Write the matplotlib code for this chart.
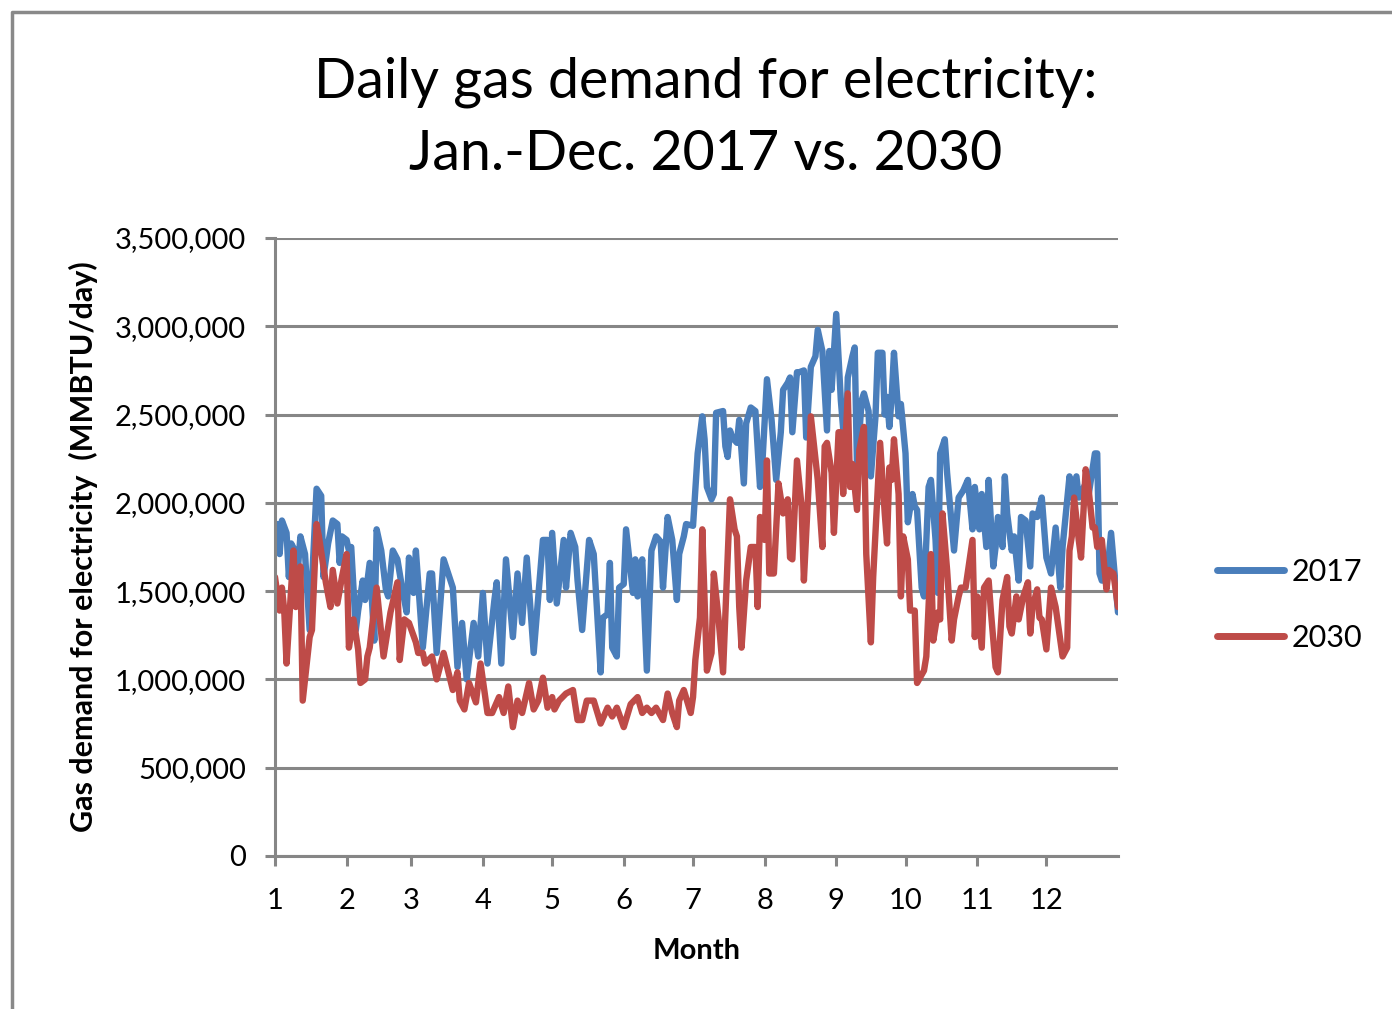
import matplotlib
matplotlib.use("Agg")
import matplotlib.pyplot as plt
from matplotlib.ticker import FuncFormatter

plt.rcParams['font.family'] = ['Lato', 'DejaVu Sans']

# day of year (0-based) and demand in million MMBTU/day
days_2017 = [0, 1, 2, 3, 5, 6, 7, 9, 10, 11, 13, 15, 18, 20, 21, 23, 25, 27, 28, 29,
             31, 32, 33, 35, 36, 38, 39, 41, 43, 44, 46, 48, 49, 51, 53, 55, 57, 58, 60, 61,
             64, 67, 68, 70, 73, 77, 79, 81, 83, 86, 88, 90, 92, 95, 96, 98, 100, 103, 105, 107,
             109, 112, 116, 118, 119, 120, 122, 125, 126, 128, 130, 131, 133, 136, 138, 141, 142, 144, 145, 146,
             148, 149, 151, 152, 155, 156, 157, 158, 159, 161, 163, 165, 167, 168, 170, 172, 174, 175, 177, 178,
             181, 183, 185, 186, 187, 189, 190, 191, 194, 195, 196, 197, 198, 200, 201, 203, 204, 206, 208, 210,
             211, 213, 215, 217, 219, 220, 222, 223, 224, 226, 227, 229, 230, 232, 234, 235, 237, 239, 240, 241,
             243, 245, 247, 248, 250, 251, 252, 254, 255, 257, 258, 260, 261, 263, 264, 265, 266, 267, 268, 270,
             271, 273, 274, 276, 277, 278, 280, 281, 283, 284, 286, 287, 288, 290, 291, 294, 296, 298, 300, 302,
             303, 305, 306, 308, 309, 311, 312, 313, 315, 316, 317, 319, 320, 322, 323, 325, 327, 328, 330, 332,
             334, 336, 338, 340, 341, 344, 345, 347, 348, 351, 352, 355, 356, 357, 358, 360, 362, 365]
demand_2017 = [1.87, 1.88, 1.71, 1.90, 1.83, 1.58, 1.77, 1.72, 1.64, 1.81, 1.71, 1.28, 2.08, 2.04, 1.58, 1.77, 1.90, 1.88, 1.66, 1.81,
               1.79, 1.73, 1.75, 1.28, 1.39, 1.56, 1.45, 1.66, 1.22, 1.85, 1.73, 1.51, 1.47, 1.73, 1.68, 1.52, 1.38, 1.69, 1.49, 1.73,
               1.18, 1.60, 1.60, 1.15, 1.68, 1.52, 1.07, 1.32, 1.00, 1.32, 1.13, 1.49, 1.09, 1.45, 1.55, 1.09, 1.68, 1.24, 1.60, 1.32,
               1.69, 1.15, 1.79, 1.79, 1.45, 1.83, 1.43, 1.79, 1.52, 1.83, 1.75, 1.56, 1.28, 1.79, 1.71, 1.04, 1.35, 1.37, 1.66, 1.18,
               1.13, 1.52, 1.54, 1.85, 1.49, 1.68, 1.47, 1.60, 1.68, 1.05, 1.73, 1.81, 1.78, 1.52, 1.92, 1.79, 1.45, 1.71, 1.81, 1.88,
               1.87, 2.28, 2.49, 2.36, 2.09, 2.02, 2.05, 2.51, 2.52, 2.32, 2.26, 2.41, 2.37, 2.34, 2.47, 2.11, 2.45, 2.54, 2.52, 2.09,
               2.22, 2.70, 2.47, 2.13, 2.40, 2.64, 2.68, 2.71, 2.40, 2.74, 2.74, 2.75, 2.37, 2.77, 2.83, 2.98, 2.86, 2.41, 2.86, 2.64,
               3.07, 2.58, 2.26, 2.71, 2.83, 2.88, 2.20, 2.58, 2.62, 2.52, 2.15, 2.49, 2.85, 2.85, 2.50, 2.60, 2.43, 2.60, 2.85, 2.49,
               2.56, 2.28, 1.89, 2.05, 1.98, 1.96, 1.52, 1.47, 2.09, 2.13, 1.79, 1.49, 2.28, 2.36, 2.17, 1.73, 2.03, 2.07, 2.13, 1.85,
               2.09, 1.85, 2.05, 1.75, 2.13, 1.64, 1.75, 1.92, 1.75, 2.15, 1.94, 1.73, 1.81, 1.56, 1.92, 1.90, 1.64, 1.94, 1.92, 2.03,
               1.69, 1.60, 1.86, 1.52, 1.75, 2.15, 2.03, 2.15, 2.03, 2.11, 2.02, 2.28, 2.28, 1.60, 1.56, 1.56, 1.83, 1.38]

days_2030 = [0, 2, 3, 4, 5, 8, 9, 11, 12, 15, 16, 18, 19, 22, 24, 25, 27, 29, 31, 32,
             34, 36, 37, 39, 40, 41, 44, 47, 50, 53, 54, 56, 58, 61, 62, 64, 65, 68, 70, 73,
             77, 79, 80, 82, 84, 87, 89, 92, 94, 97, 99, 101, 103, 105, 107, 110, 112, 114, 116, 118,
             120, 121, 123, 126, 129, 131, 133, 135, 138, 141, 144, 146, 148, 151, 154, 157, 159, 161, 163, 165,
             168, 170, 172, 174, 175, 177, 180, 181, 182, 184, 185, 187, 189, 190, 192, 194, 197, 199, 200, 201,
             202, 204, 206, 208, 209, 210, 212, 213, 214, 216, 218, 220, 222, 223, 224, 226, 228, 229, 231, 232,
             235, 237, 238, 239, 241, 242, 244, 245, 246, 248, 249, 250, 252, 253, 255, 256, 258, 259, 262, 264,
             265, 266, 267, 268, 270, 271, 272, 274, 275, 277, 278, 281, 282, 284, 285, 287, 288, 289, 291, 293,
             294, 296, 297, 299, 302, 303, 304, 306, 307, 309, 310, 312, 313, 315, 317, 318, 319, 321, 322, 324,
             326, 327, 328, 330, 331, 332, 334, 336, 338, 341, 343, 344, 345, 346, 348, 349, 351, 352, 354, 355,
             356, 358, 360, 361, 363, 365]
demand_2030 = [1.58, 1.39, 1.52, 1.39, 1.09, 1.73, 1.41, 1.64, 0.88, 1.24, 1.28, 1.88, 1.81, 1.55, 1.41, 1.62, 1.43, 1.58, 1.71, 1.18,
               1.34, 1.17, 0.98, 1.00, 1.13, 1.18, 1.52, 1.13, 1.38, 1.55, 1.11, 1.34, 1.32, 1.21, 1.15, 1.15, 1.09, 1.13, 1.00, 1.15,
               0.94, 1.04, 0.88, 0.83, 0.98, 0.87, 1.09, 0.81, 0.81, 0.90, 0.81, 0.96, 0.73, 0.88, 0.81, 0.98, 0.83, 0.88, 1.01, 0.84,
               0.90, 0.83, 0.88, 0.92, 0.94, 0.77, 0.77, 0.88, 0.88, 0.75, 0.84, 0.79, 0.84, 0.73, 0.86, 0.90, 0.81, 0.84, 0.81, 0.84,
               0.77, 0.92, 0.81, 0.73, 0.88, 0.94, 0.81, 0.90, 1.11, 1.35, 1.85, 1.05, 1.15, 1.60, 1.35, 1.04, 2.02, 1.85, 1.81, 1.41,
               1.18, 1.56, 1.75, 1.75, 1.41, 1.92, 1.79, 2.24, 1.60, 1.60, 2.11, 1.94, 2.02, 1.69, 1.68, 2.24, 1.98, 1.56, 2.09, 2.49,
               2.13, 1.75, 2.32, 2.34, 2.17, 1.83, 2.40, 2.40, 2.05, 2.62, 2.09, 2.22, 1.96, 2.30, 2.43, 1.71, 1.21, 1.58, 2.34, 1.94,
               1.77, 2.20, 2.13, 2.36, 2.05, 1.47, 1.81, 1.68, 1.39, 1.39, 0.98, 1.05, 1.13, 1.71, 1.22, 1.38, 1.34, 1.94, 1.62, 1.22,
               1.34, 1.47, 1.52, 1.52, 1.79, 1.24, 1.47, 1.18, 1.52, 1.56, 1.38, 1.07, 1.04, 1.45, 1.58, 1.30, 1.26, 1.47, 1.34, 1.47,
               1.55, 1.26, 1.41, 1.51, 1.35, 1.34, 1.17, 1.52, 1.41, 1.13, 1.18, 1.73, 1.81, 2.03, 1.79, 1.69, 2.19, 2.11, 1.86, 1.86,
               1.75, 1.79, 1.51, 1.62, 1.60, 1.41]

month_starts = [0, 31, 59, 90, 120, 151, 181, 212, 243, 273, 304, 334]
month_labels = ['1', '2', '3', '4', '5', '6', '7', '8', '9', '10', '11', '12']

BLUE = '#4A7EBB'
RED = '#BE4B48'
GRID = '#868686'

fig = plt.figure(figsize=(13.92, 10.09), dpi=100)
ax = fig.add_axes([275 / 1392, 1 - 856 / 1009, (1118 - 275) / 1392, (856 - 238) / 1009])

ax.plot(days_2017, [v * 1e6 for v in demand_2017], color=BLUE, lw=4.6, label='2017',
        solid_joinstyle='round', solid_capstyle='round')
ax.plot(days_2030, [v * 1e6 for v in demand_2030], color=RED, lw=4.6, label='2030',
        solid_joinstyle='round', solid_capstyle='round')

ax.set_xlim(0, 365)
ax.set_ylim(0, 3.5e6)
ax.set_yticks([i * 5e5 for i in range(8)])
ax.yaxis.set_major_formatter(FuncFormatter(lambda v, p: '{:,.0f}'.format(v)))
ax.set_xticks(month_starts)
ax.set_xticklabels(month_labels)
ax.grid(axis='y', color=GRID, lw=2.2)
ax.set_axisbelow(True)
for s in ['top', 'right']:
    ax.spines[s].set_visible(False)
for s in ['left', 'bottom']:
    ax.spines[s].set_color(GRID)
    ax.spines[s].set_linewidth(2.2)
ax.tick_params(axis='both', colors=GRID, width=2.2, length=7, labelcolor='black', labelsize=21)
ax.tick_params(axis='x', pad=16)
ax.tick_params(axis='y', pad=14)

ax.set_xlabel('Month', fontsize=21, fontweight='bold', labelpad=17)
ax.set_ylabel('Gas demand for electricity  (MMBTU/day)', fontsize=22, fontweight='bold', labelpad=12)

fig.text(706 / 1392, 1 - 118 / 1009, 'Daily gas demand for electricity:\nJan.-Dec. 2017 vs. 2030',
         ha='center', va='center', fontsize=40, linespacing=1.5)

leg = fig.legend(loc='center left', bbox_to_anchor=(1189 / 1392, 1 - 605 / 1009), frameon=False,
                 fontsize=22, handlelength=2.2, handletextpad=0.25, labelspacing=1.25)
for h in leg.legend_handles:
    h.set_linewidth(5)

# chart-area border on the left and top
fig.add_artist(plt.Line2D([12 / 1392, 12 / 1392, 1], [0, 1 - 12 / 1009, 1 - 12 / 1009],
                          transform=fig.transFigure, color='#898989', lw=2.5))

fig.savefig('out.png', dpi=100)
